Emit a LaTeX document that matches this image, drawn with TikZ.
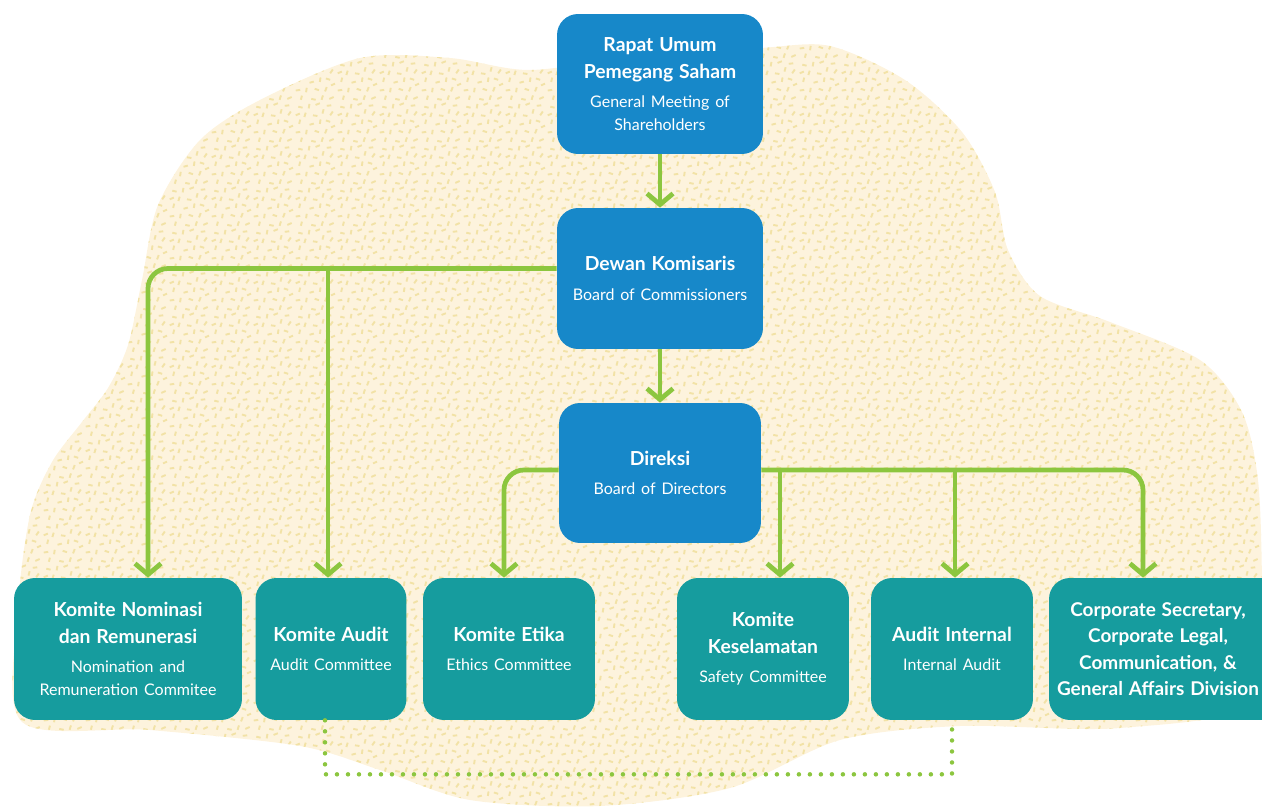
\documentclass[tikz,border=0pt]{standalone}
\usepackage{fontspec}
\setmainfont{Lato}
\usepackage{tikz}
\usetikzlibrary{arrows.meta, calc, patterns}

\definecolor{boxblue}{HTML}{1788C9}
\definecolor{boxteal}{HTML}{169C9E}
\definecolor{linkgreen}{HTML}{8CC63F}
\definecolor{blobfill}{HTML}{FDF3DD}
\definecolor{blobdot}{HTML}{F2E2A6}

% little dashes for the background blob
\pgfdeclarepatternformonly{speckle}{\pgfpointorigin}{\pgfqpoint{24pt}{24pt}}{\pgfqpoint{24pt}{24pt}}{%
  \pgfsetlinewidth{1.1pt}
  \pgfpathmoveto{\pgfqpoint{1pt}{2pt}}\pgfpathlineto{\pgfqpoint{3.6pt}{2.4pt}}
  \pgfpathmoveto{\pgfqpoint{7pt}{1pt}}\pgfpathlineto{\pgfqpoint{7.4pt}{3.6pt}}
  \pgfpathmoveto{\pgfqpoint{12pt}{3pt}}\pgfpathlineto{\pgfqpoint{14.5pt}{2.2pt}}
  \pgfpathmoveto{\pgfqpoint{18pt}{1.5pt}}\pgfpathlineto{\pgfqpoint{19pt}{4pt}}
  \pgfpathmoveto{\pgfqpoint{21.5pt}{5pt}}\pgfpathlineto{\pgfqpoint{23.8pt}{6pt}}
  \pgfpathmoveto{\pgfqpoint{3pt}{7pt}}\pgfpathlineto{\pgfqpoint{3.6pt}{9.5pt}}
  \pgfpathmoveto{\pgfqpoint{9pt}{6.5pt}}\pgfpathlineto{\pgfqpoint{11.5pt}{7.2pt}}
  \pgfpathmoveto{\pgfqpoint{15pt}{7pt}}\pgfpathlineto{\pgfqpoint{15.4pt}{9.6pt}}
  \pgfpathmoveto{\pgfqpoint{18.5pt}{9pt}}\pgfpathlineto{\pgfqpoint{21pt}{8.2pt}}
  \pgfpathmoveto{\pgfqpoint{1pt}{12pt}}\pgfpathlineto{\pgfqpoint{3.4pt}{13pt}}
  \pgfpathmoveto{\pgfqpoint{6pt}{11pt}}\pgfpathlineto{\pgfqpoint{6.8pt}{13.5pt}}
  \pgfpathmoveto{\pgfqpoint{11pt}{12pt}}\pgfpathlineto{\pgfqpoint{13.6pt}{11.6pt}}
  \pgfpathmoveto{\pgfqpoint{16.5pt}{13pt}}\pgfpathlineto{\pgfqpoint{17.2pt}{15.5pt}}
  \pgfpathmoveto{\pgfqpoint{21pt}{12pt}}\pgfpathlineto{\pgfqpoint{22.5pt}{14.2pt}}
  \pgfpathmoveto{\pgfqpoint{2.5pt}{17pt}}\pgfpathlineto{\pgfqpoint{5pt}{16.4pt}}
  \pgfpathmoveto{\pgfqpoint{8.5pt}{16pt}}\pgfpathlineto{\pgfqpoint{9pt}{18.6pt}}
  \pgfpathmoveto{\pgfqpoint{12.5pt}{18pt}}\pgfpathlineto{\pgfqpoint{15pt}{19pt}}
  \pgfpathmoveto{\pgfqpoint{19pt}{17.5pt}}\pgfpathlineto{\pgfqpoint{21.6pt}{17.8pt}}
  \pgfpathmoveto{\pgfqpoint{4pt}{21pt}}\pgfpathlineto{\pgfqpoint{4.6pt}{23.4pt}}
  \pgfpathmoveto{\pgfqpoint{10pt}{21.5pt}}\pgfpathlineto{\pgfqpoint{12.6pt}{21pt}}
  \pgfpathmoveto{\pgfqpoint{16pt}{21pt}}\pgfpathlineto{\pgfqpoint{16.8pt}{23.5pt}}
  \pgfpathmoveto{\pgfqpoint{20.5pt}{21.5pt}}\pgfpathlineto{\pgfqpoint{23pt}{22.6pt}}
  \pgfusepath{stroke}
}

\newcommand{\orgtitle}[1]{{\fontsize{11}{15}\selectfont\bfseries #1\par}}
\newcommand{\orgsub}[1]{\vspace{4pt}{\fontsize{9.1}{12.8}\selectfont #1\par}}

\tikzset{
  topbox/.style={rectangle, rounded corners=0.42cm, fill=boxblue, text=white,
    align=center, inner sep=0pt, minimum height=2.8cm},
  lowbox/.style={rectangle, rounded corners=0.42cm, fill=boxteal, text=white,
    align=center, inner sep=0pt, minimum height=2.84cm},
  link/.style={draw=linkgreen, line width=0.095cm,
    -{Straight Barb[length=0.22cm, width=0.52cm]}},
  dotlink/.style={draw=linkgreen, line width=0.09cm, line cap=round,
    dash pattern=on 0pt off 0.22cm},
}

\begin{document}
\begin{tikzpicture}[x=0.02cm, y=-0.02cm]
    \useasboundingbox (0,0) rectangle (1262,808);

    % Background blob
    \path[fill=blobfill] plot[smooth cycle] coordinates {
      (200,140) (260,100) (360,58) (450,58) (530,70) (640,56) (760,48) (830,46)
      (905,80) (962,132) (995,192) (1008,250) (1040,296) (1110,322) (1200,360)
      (1242,412) (1258,480) (1262,580) (1262,700) (1120,728) (960,726) (840,740)
      (730,788) (600,806) (470,800) (380,770) (300,746) (150,730) (22,722)
      (18,610) (30,515) (52,462) (82,422) (108,388) (128,345) (142,280) (158,205)};
    \path[pattern=speckle, pattern color=blobdot] plot[smooth cycle] coordinates {
      (200,140) (260,100) (360,58) (450,58) (530,70) (640,56) (760,48) (830,46)
      (905,80) (962,132) (995,192) (1008,250) (1040,296) (1110,322) (1200,360)
      (1242,412) (1258,480) (1262,580) (1262,700) (1120,728) (960,726) (840,740)
      (730,788) (600,806) (470,800) (380,770) (300,746) (150,730) (22,722)
      (18,610) (30,515) (52,462) (82,422) (108,388) (128,345) (142,280) (158,205)};

    % Top of the chart
    \node[topbox, minimum width=4.12cm, text width=3.9cm] (rups) at (660,84)
      {\orgtitle{Rapat Umum\\Pemegang Saham}\orgsub{General Meeting of\\Shareholders}};
    \node[topbox, minimum width=4.12cm, text width=3.9cm, minimum height=2.82cm] (dewan) at (660,278.5)
      {\orgtitle{Dewan Komisaris}\orgsub{Board of Commissioners}};
    \node[topbox, minimum width=4.04cm, text width=3.8cm] (direksi) at (660,473)
      {\orgtitle{Direksi}\orgsub{Board of Directors}};

    % Committees and divisions
    \node[lowbox, minimum width=4.56cm, text width=4.4cm] (nominasi) at (128,649)
      {\orgtitle{Komite Nominasi\\dan Remunerasi}\orgsub{Nomination and\\Remuneration Commitee}};
    \node[lowbox, minimum width=3.02cm, text width=2.9cm] (audit) at (331,649)
      {\orgtitle{Komite Audit}\orgsub{Audit Committee}};
    \node[lowbox, minimum width=3.44cm, text width=3.2cm] (etika) at (509,649)
      {\orgtitle{Komite Etika}\orgsub{Ethics Committee}};
    \node[lowbox, minimum width=3.44cm, text width=3.2cm] (keselamatan) at (763,649)
      {\orgtitle{Komite\\Keselamatan}\orgsub{Safety Committee}};
    \node[lowbox, minimum width=3.24cm, text width=3.0cm] (internal) at (952,649)
      {\orgtitle{Audit Internal}\orgsub{Internal Audit}};
    % runs off the right edge, so the text sits left of the box centre
    \node[lowbox, minimum width=4.76cm, text width=4.6cm] (corporate) at (1168,649)
      {\leftskip=0pt plus 1fil \rightskip=0.4cm plus 1fil \parfillskip=0pt
       {\fontsize{10.8}{15}\selectfont\bfseries Corporate Secretary,\\Corporate Legal,\\Communication, \&\\General Affairs Division\par}};

    % Main line
    \draw[link] (rups) -- (dewan);
    \draw[link] (dewan) -- (direksi);

    % Commissioners' committees
    \coordinate (kom) at ($(dewan.west)+(0,-10)$);
    \coordinate (nomin) at ($(nominasi.north)+(20,0)$);
    \coordinate (audin) at ($(audit.north)+(-3,0)$);
    \draw[link, rounded corners=0.4cm] (kom) -| (nomin);
    \draw[link] (kom -| audin) -- (audin);

    % Directors' units
    \coordinate (dirl) at ($(direksi.west)+(0,-3)$);
    \coordinate (dirr) at ($(direksi.east)+(0,-3)$);
    \coordinate (etin) at ($(etika.north)+(-5,0)$);
    \coordinate (kesin) at ($(keselamatan.north)+(17,0)$);
    \coordinate (intin) at ($(internal.north)+(3,0)$);
    \coordinate (corin) at ($(corporate.north)+(-25,0)$);
    \draw[link, rounded corners=0.4cm] (dirl) -| (etin);
    \draw[link, rounded corners=0.4cm] (dirr) -| (corin);
    \draw[link] (dirr -| kesin) -- (kesin);
    \draw[link] (dirr -| intin) -- (intin);

    % Coordination between the two audit units
    \coordinate (dotl) at ($(audit.south)+(-6,54)$);
    \draw[dotlink] (audit.south -| dotl) -- (dotl) -| (internal.south);
\end{tikzpicture}
\end{document}
